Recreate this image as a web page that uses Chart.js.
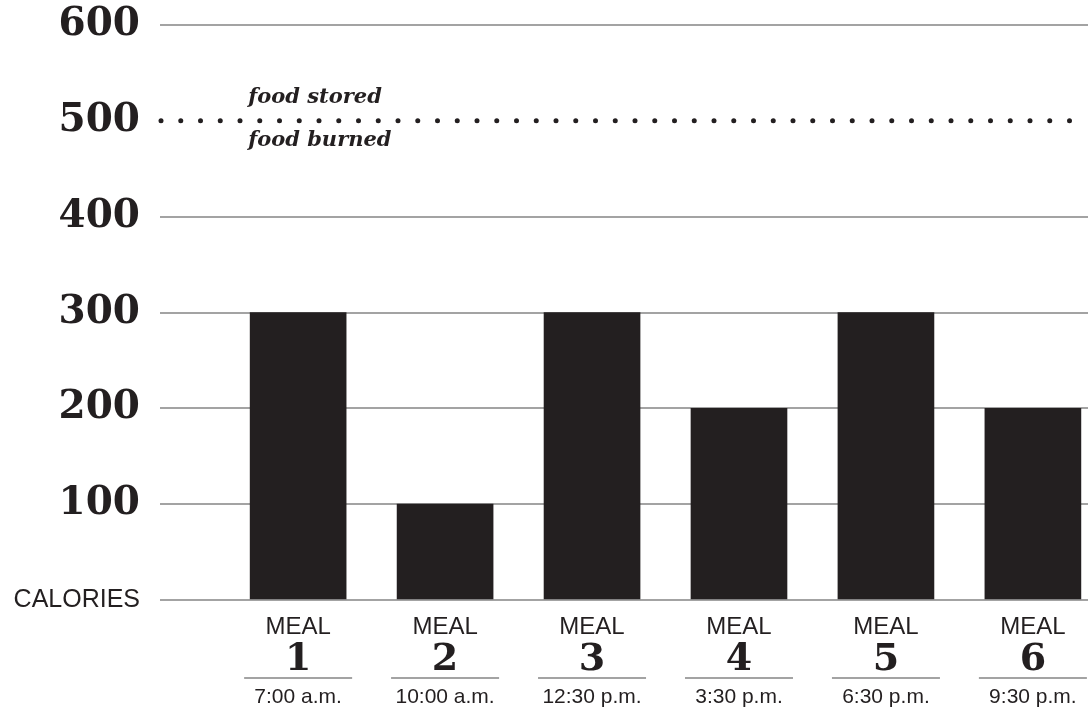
<!DOCTYPE html>
<html>
<head>
<meta charset="utf-8">
<script src="https://cdn.jsdelivr.net/npm/chart.js@4/dist/chart.umd.min.js"></script>
<style>
  html, body { margin: 0; padding: 0; background: #ffffff; overflow: hidden; }
  #wrap { width: 1088px; height: 711px; position: relative; }
</style>
</head>
<body>
<div id="wrap"><canvas id="c" width="1088" height="711"></canvas></div>
<script>
// Meal schedule and calories per meal
const mealNumbers = [1, 2, 3, 4, 5, 6];
const mealTimes = ['7:00 a.m.', '10:00 a.m.', '12:30 p.m.', '3:30 p.m.', '6:30 p.m.', '9:30 p.m.'];
const calories = [300, 100, 300, 200, 300, 200];
const yTicks = [0, 100, 200, 300, 400, 500, 600];
const thresholdValue = 500;
const thresholdAbove = 'food stored';
const thresholdBelow = 'food burned';
const zeroLabel = 'CALORIES';

const SERIF = '"DejaVu Serif", "Liberation Serif", serif';
const SANS = '"Liberation Sans", "DejaVu Sans", Arial, sans-serif';
const INK = '#231f20';
const RULE = '#a3a3a3';

// Dotted threshold line with its two italic notes
const thresholdPlugin = {
  id: 'threshold',
  afterDatasetsDraw(chart) {
    const { ctx, chartArea, scales } = chart;
    const y = scales.y.getPixelForValue(thresholdValue);
    ctx.save();
    ctx.fillStyle = INK;
    for (let x = chartArea.left + 1; x < chartArea.right - 2; x += 19.75) {
      ctx.beginPath();
      ctx.arc(x, y, 2.5, 0, Math.PI * 2);
      ctx.fill();
    }
    const xText = scales.x.getPixelForValue(mealNumbers[0]) - 50;
    ctx.font = 'italic bold 21px ' + SERIF;
    ctx.textAlign = 'left';
    ctx.textBaseline = 'middle';
    ctx.fillText(thresholdAbove, xText, y - 23);
    ctx.fillText(thresholdBelow, xText, y + 20);
    ctx.restore();
  }
};

// Stacked category labels: MEAL / number / rule / time
const mealLabelPlugin = {
  id: 'mealLabels',
  afterDraw(chart) {
    const { ctx, scales } = chart;
    const base = scales.y.getPixelForValue(0);
    ctx.save();
    ctx.fillStyle = INK;
    ctx.textAlign = 'center';
    ctx.textBaseline = 'middle';
    mealNumbers.forEach((n, i) => {
      const cx = scales.x.getPixelForValue(n);
      ctx.font = '24px ' + SANS;
      ctx.fillText('MEAL', cx, base + 27);
      ctx.font = 'bold 38px ' + SERIF;
      ctx.fillText(String(n), cx, base + 60);
      ctx.strokeStyle = RULE;
      ctx.lineWidth = 2;
      ctx.beginPath();
      ctx.moveTo(cx - 54, base + 78);
      ctx.lineTo(cx + 54, base + 78);
      ctx.stroke();
      ctx.font = '21px ' + SANS;
      ctx.fillText(mealTimes[i], cx, base + 97);
    });
    ctx.restore();
  }
};

new Chart(document.getElementById('c'), {
  type: 'bar',
  data: {
    datasets: [{
      data: mealNumbers.map((n, i) => ({ x: n, y: calories[i] })),
      backgroundColor: INK,
      borderWidth: 0,
      barThickness: 96
    }]
  },
  options: {
    responsive: false,
    animation: false,
    devicePixelRatio: 1,
    layout: { padding: { top: 25, right: 0, left: 0, bottom: 0 } },
    plugins: { legend: { display: false }, tooltip: { enabled: false } },
    scales: {
      x: {
        type: 'linear',
        min: 0.06,
        max: 6.375,
        offset: false,
        grid: { display: false },
        border: { display: false },
        ticks: { display: false },
        afterFit(scale) { scale.height = 111; }
      },
      y: {
        min: 0,
        max: 600,
        afterBuildTicks(scale) { scale.ticks = yTicks.map(v => ({ value: v })); },
        border: { display: false },
        grid: {
          drawTicks: false,
          lineWidth: 2,
          color: ctx => (ctx.tick && ctx.tick.value === thresholdValue) ? 'rgba(0,0,0,0)' : RULE
        },
        ticks: {
          padding: 20,
          color: INK,
          callback: v => v === 0 ? zeroLabel : String(v),
          font: ctx => (ctx.tick && ctx.tick.value === 0)
            ? { family: SANS, size: 25, weight: 'normal', lineHeight: 1.45 }
            : { family: SERIF, size: 39, weight: 'bold' }
        },
        afterFit(scale) {
          scale.width = 160;
          scale.paddingTop = 0;
          scale.paddingBottom = 0;
        }
      }
    }
  },
  plugins: [thresholdPlugin, mealLabelPlugin]
});
</script>
</body>
</html>
